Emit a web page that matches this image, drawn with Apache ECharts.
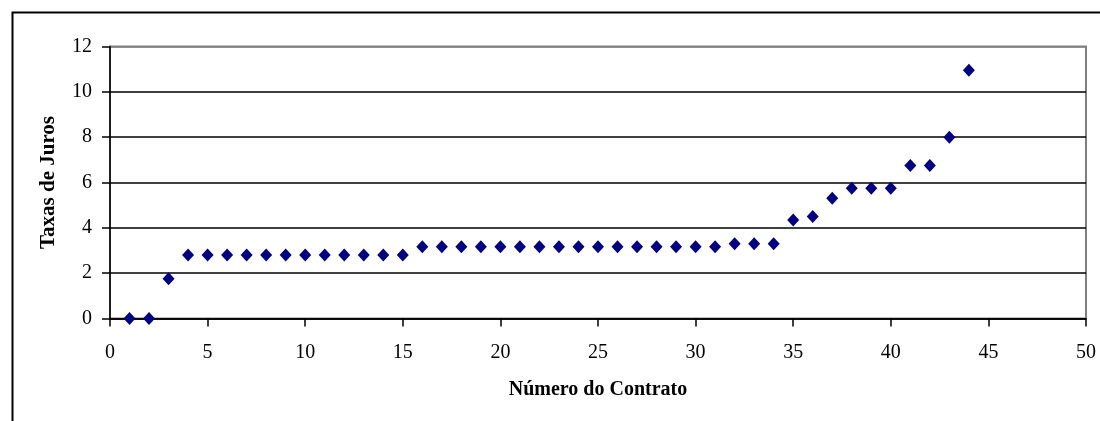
<!DOCTYPE html>
<html>
<head>
<meta charset="utf-8">
<script src="https://cdn.jsdelivr.net/npm/echarts@6/dist/echarts.min.js"></script>
<style>
  html, body { margin: 0; padding: 0; background: #fff; }
  #chart { width: 1100px; height: 421px; }
</style>
</head>
<body>
<div id="chart"></div>
<script>
// Contract numbers and their interest rates
const contracts = [1, 2, 3, 4, 5, 6, 7, 8, 9, 10, 11, 12, 13, 14, 15, 16, 17, 18, 19, 20, 21, 22,
  23, 24, 25, 26, 27, 28, 29, 30, 31, 32, 33, 34, 35, 36, 37, 38, 39, 40, 41, 42, 43, 44];
const rates = [0, 0, 1.75,
  2.8, 2.8, 2.8, 2.8, 2.8, 2.8, 2.8, 2.8, 2.8, 2.8, 2.8, 2.8,
  3.17, 3.17, 3.17, 3.17, 3.17, 3.17, 3.17, 3.17, 3.17, 3.17, 3.17, 3.17, 3.17, 3.17, 3.17, 3.17,
  3.3, 3.3, 3.3, 4.35, 4.5, 5.3, 5.75, 5.75, 5.75, 6.75, 6.75, 8, 10.95];

const xTicks = { min: 0, max: 50, interval: 5 };
const yTicks = { min: 0, max: 12, interval: 2 };

const xName = 'Número do Contrato';
const yName = 'Taxas de Juros';

const FONT = "'Liberation Serif', 'Times New Roman', serif";

const points = contracts.map((c, i) => [c, rates[i]]);

const chart = echarts.init(document.getElementById('chart'), null, { renderer: 'canvas' });

chart.setOption({
  animation: false,
  backgroundColor: '#ffffff',
  graphic: [{
    type: 'rect',
    left: 10, top: 10,
    shape: { width: 1100, height: 430 },
    style: { fill: 'none', stroke: '#000', lineWidth: 2 },
    silent: true,
    z: 100
  }],
  grid: {
    left: 110, right: 14, top: 46.5, bottom: 102.5,
    show: true,
    backgroundColor: '#fff',
    borderColor: '#808080',
    borderWidth: 2
  },
  xAxis: {
    type: 'value',
    min: xTicks.min, max: xTicks.max, interval: xTicks.interval,
    name: xName,
    nameLocation: 'middle',
    nameGap: 61,
    nameTextStyle: { fontFamily: FONT, fontSize: 20, fontWeight: 'bold', color: '#000' },
    axisLine: { show: true, onZero: false, lineStyle: { color: '#000', width: 1.5 } },
    axisTick: { show: true, inside: false, length: 8, lineStyle: { color: '#000', width: 1.5 } },
    axisLabel: { fontFamily: FONT, fontSize: 20, color: '#000', margin: 24 },
    splitLine: { show: false }
  },
  yAxis: {
    type: 'value',
    min: yTicks.min, max: yTicks.max, interval: yTicks.interval,
    name: yName,
    nameLocation: 'middle',
    nameGap: 51,
    nameTextStyle: { fontFamily: FONT, fontSize: 21, fontWeight: 'bold', color: '#000' },
    axisLine: { show: true, lineStyle: { color: '#000', width: 1.5 } },
    axisTick: { show: true, inside: false, length: 8, lineStyle: { color: '#000', width: 1.5 } },
    axisLabel: { fontFamily: FONT, fontSize: 20, color: '#000', margin: 18 },
    splitLine: {
      show: true,
      lineStyle: { color: ['#000', '#000', '#000', '#000', '#000', '#000', '#808080'], width: 1.5 }
    }
  },
  series: [{
    type: 'scatter',
    data: points,
    symbol: 'diamond',
    symbolSize: [12, 13],
    itemStyle: { color: '#000080', opacity: 1 },
    z: 10
  }]
});
</script>
</body>
</html>
